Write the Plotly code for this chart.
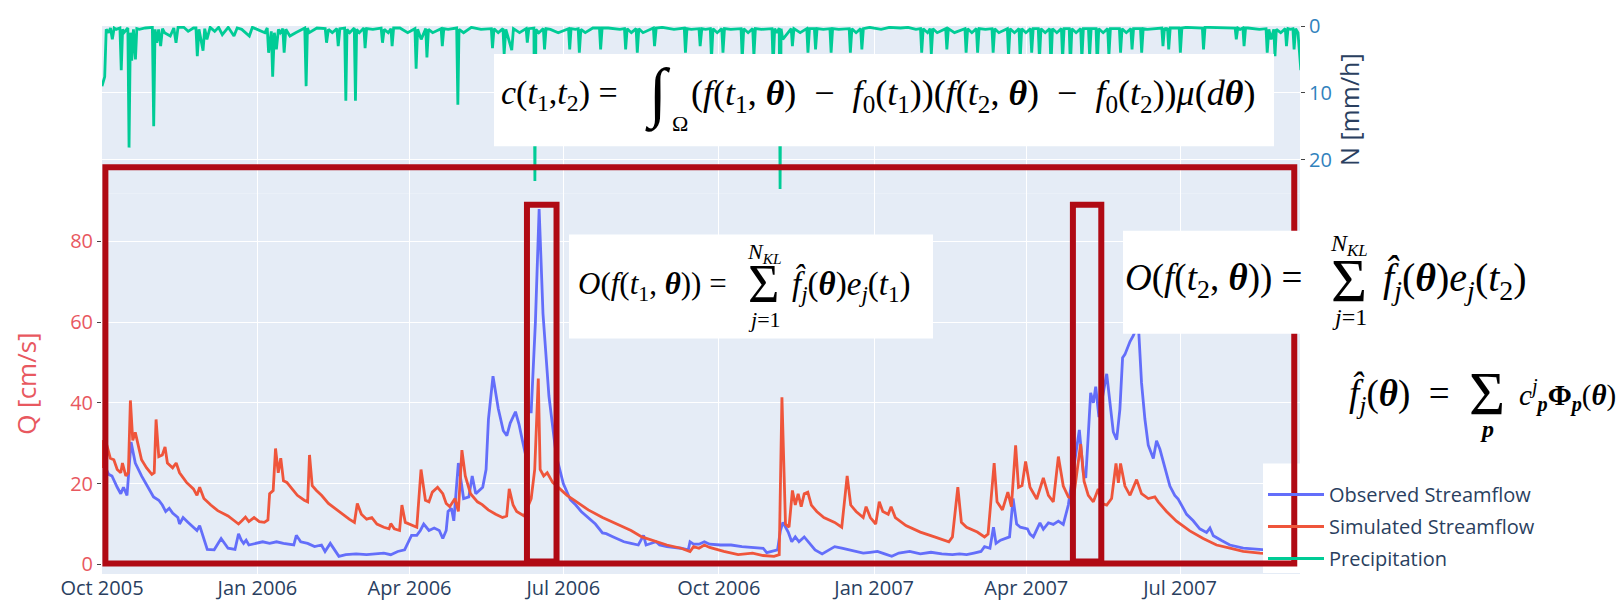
import pandas as pd
import plotly.graph_objects as go

START = pd.Timestamp("2005-10-01")
END_DAY = 709.0

# ---------------- data (days after 2005-10-01) -------------
obs_day = [0, 1.8, 3.9, 5.9, 9.0, 11.1, 12.7, 14.8, 17.2, 19.7,
           23.4, 27.5, 30.5, 33.6, 35.7, 37.7, 39.8, 41.8, 44.9, 45.9,
           48.0, 51.0, 54.1, 56.2, 57.8, 60.3, 62.3, 66.4, 70.5, 74.6,
           78.7, 80.8, 82.4, 83.8, 85.3, 86.9, 91.0, 95.1, 99.2, 103.3,
           107.4, 113.5, 115.0, 117.6, 121.7, 125.8, 129.9, 132.0, 135.1, 138.1,
           140.2, 144.3, 150.4, 156.6, 162.7, 166.8, 170.9, 175.0, 179.1, 183.2,
           186.3, 188.4, 190.4, 193.5, 196.6, 199.6, 201.7, 203.7, 204.8, 206.8,
           208.2, 210.9, 214.0, 217.1, 219.1, 221.2, 225.3, 227.3, 228.7, 231.4,
           234.5, 237.5, 239.6, 241.6, 244.7, 246.8, 248.8, 250.5, 251.9, 254.0,
           256.5, 258.7, 261.0, 264.5, 268.8, 273.0, 277.2, 280.4, 283.6, 287.8,
           292.0, 296.2, 298.4, 302.6, 308.9, 313.1, 317.4, 320.5, 322.0, 327.9,
           330.0, 334.3, 342.7, 347.0, 348.0, 350.1, 353.3, 356.5, 359.6, 366.0,
           372.3, 378.7, 385.0, 391.3, 393.4, 396.6, 399.8, 401.5, 403.0, 406.1,
           408.2, 410.3, 412.5, 415.6, 418.8, 422.0, 426.2, 430.4, 433.6, 437.8,
           442.0, 446.3, 450.5, 454.7, 458.9, 463.2, 467.4, 471.6, 478.0, 484.3,
           490.6, 497.0, 503.3, 507.5, 511.7, 516.0, 520.2, 522.3, 525.5, 527.6,
           529.1, 531.8, 535.0, 537.1, 539.2, 541.3, 543.5, 547.7, 549.2, 551.2,
           555.1, 557.1, 560.1, 563.0, 566.0, 568.9, 571.9, 574.9, 578.4, 580.8,
           582.2, 583.7, 585.1, 586.7, 588.1, 590.0, 594.6, 598.5, 600.5, 602.4,
           604.0, 605.4, 606.8, 608.4, 610.4, 611.9, 613.0, 615.2, 617.2, 619.2,
           622.2, 624.1, 626.1, 629.0, 632.0, 634.9, 636.9, 641.9, 645.8, 649.7,
           653.7, 655.7, 657.7, 662.6, 667.5, 675.4, 685.3, 697.0, 709.5]
obs_q = [30.7, 24.3, 22.3, 21.9, 19.1, 17.5, 19.1, 17.1, 30.3, 25.1,
         21.9, 19.1, 16.7, 15.9, 14.7, 13.1, 13.9, 12.7, 11.6, 10.0,
         11.6, 10.4, 9.2, 8.4, 9.6, 6.0, 3.7, 3.6, 6.4, 4.0,
         3.7, 7.6, 6.0, 5.2, 6.0, 4.8, 5.2, 5.6, 5.2, 5.6,
         5.2, 4.8, 7.2, 5.6, 5.2, 4.4, 4.8, 3.2, 5.2, 3.2,
         2.0, 2.4, 2.6, 2.4, 2.6, 2.8, 2.4, 3.2, 3.6, 7.2,
         7.2, 8.4, 10.0, 8.4, 9.0, 8.4, 6.4, 8.4, 13.1, 13.9,
         10.8, 25.1, 16.3, 16.7, 21.9, 17.5, 19.1, 23.5, 35.9, 46.6,
         38.6, 33.1, 31.9, 35.0, 37.8, 34.7, 30.7, 27.5, 37.8, 37.8,
         60.0, 88.0, 62.0, 41.7, 27.0, 20.0, 16.0, 14.7, 13.1, 11.6,
         10.0, 7.8, 7.6, 6.8, 5.6, 5.2, 4.8, 7.2, 4.8, 5.6,
         4.8, 4.4, 4.0, 3.6, 5.6, 5.0, 5.0, 5.6, 5.0, 4.8,
         4.8, 4.4, 4.2, 4.0, 2.9, 3.2, 3.6, 8.4, 10.4, 8.0,
         5.6, 6.8, 5.6, 6.8, 5.2, 3.6, 2.6, 3.6, 4.4, 4.0,
         3.6, 3.2, 2.8, 3.0, 3.2, 2.6, 2.0, 2.8, 3.2, 2.6,
         3.0, 2.6, 2.4, 2.6, 2.4, 2.8, 3.2, 4.4, 4.0, 9.2,
         5.2, 6.0, 6.4, 6.8, 16.3, 10.0, 9.2, 8.8, 7.5, 6.8,
         10.3, 8.7, 10.3, 9.9, 10.7, 9.9, 14.7, 23.4, 33.3, 22.6,
         21.4, 32.1, 42.5, 40.0, 44.0, 36.5, 47.2, 32.8, 30.9, 38.4,
         51.2, 52.0, 53.6, 55.2, 56.7, 58.3, 62.0, 45.0, 36.0, 29.5,
         26.2, 30.6, 28.5, 24.2, 19.4, 17.1, 16.2, 12.4, 10.8, 8.8,
         7.9, 9.0, 7.1, 5.9, 4.8, 4.0, 3.6, 3.3, 3.0]

sim_day = [0, 0.8, 2.9, 4.9, 7.0, 9.0, 11.1, 12.1, 14.1, 15.6,
           16.8, 18.2, 19.7, 21.3, 23.4, 26.4, 29.5, 30.9, 32.0, 33.6,
           35.7, 37.3, 38.7, 41.8, 43.9, 45.9, 50.0, 54.1, 56.2, 57.8,
           60.3, 64.4, 68.5, 74.6, 80.8, 82.8, 84.9, 86.9, 90.0, 93.1,
           96.1, 98.2, 99.2, 101.3, 102.7, 104.3, 105.8, 107.4, 109.4, 112.5,
           115.6, 119.7, 121.7, 122.8, 124.4, 126.9, 129.9, 134.0, 140.2, 146.3,
           149.4, 151.1, 153.5, 156.6, 159.7, 162.7, 166.8, 169.9, 170.9, 173.0,
           176.1, 177.5, 179.5, 184.3, 186.3, 188.8, 191.4, 193.5, 195.5, 198.6,
           201.7, 203.7, 205.8, 208.9, 210.9, 213.0, 215.0, 218.1, 222.2, 225.0,
           228.6, 233.0, 237.0, 239.5, 241.0, 243.3, 245.4, 249.8, 254.0, 256.1,
           258.2, 259.3, 261.4, 263.5, 266.7, 271.0, 275.2, 279.4, 283.6, 287.8,
           296.2, 304.7, 313.1, 319.5, 325.9, 334.3, 342.7, 348.0, 350.1, 353.3,
           356.5, 359.6, 368.0, 376.5, 385.0, 391.3, 397.7, 400.8, 402.4, 404.5,
           406.6, 408.6, 410.3, 412.0, 413.8, 415.6, 417.7, 419.8, 423.0, 427.2,
           433.6, 437.8, 441.0, 443.1, 446.3, 450.5, 452.2, 454.7, 457.9, 460.0,
           462.1, 465.3, 467.0, 469.5, 475.8, 484.3, 492.7, 501.2, 503.3, 506.5,
           508.6, 511.7, 518.0, 522.3, 524.4, 528.0, 529.7, 532.9, 536.1, 538.2,
           540.7, 542.4, 544.5, 546.6, 549.2, 553.2, 557.1, 560.1, 563.0, 566.0,
           568.9, 571.9, 574.9, 579.2, 581.2, 583.7, 586.7, 589.6, 591.6, 594.6,
           597.5, 600.1, 601.5, 602.8, 605.4, 608.4, 612.3, 615.2, 619.2, 623.1,
           625.1, 630.0, 635.9, 643.8, 651.7, 659.6, 667.5, 675.4, 685.3, 697.0,
           709.5]
sim_q = [23.9, 30.7, 29.5, 26.3, 25.9, 23.5, 22.7, 25.1, 21.9, 22.7,
         40.6, 30.7, 32.7, 29.5, 25.9, 23.9, 22.3, 22.7, 35.9, 26.7,
         27.1, 29.1, 25.1, 23.9, 25.1, 22.7, 20.3, 18.7, 17.1, 19.1,
         16.3, 14.7, 13.3, 12.0, 10.0, 10.8, 11.7, 10.6, 11.6, 10.6,
         10.4, 11.0, 17.5, 18.3, 28.7, 22.7, 26.3, 20.7, 20.3, 18.7,
         17.1, 15.9, 15.5, 27.1, 19.5, 18.3, 17.1, 15.1, 13.1, 11.2,
         10.4, 15.1, 12.4, 11.2, 11.6, 10.0, 9.2, 8.8, 10.1, 8.8,
         8.4, 14.7, 10.4, 9.6, 9.2, 23.5, 15.9, 15.5, 17.9, 19.1,
         17.5, 15.1, 14.3, 16.3, 13.1, 28.3, 21.9, 17.5, 15.5, 14.8,
         13.5, 12.4, 11.6, 12.0, 18.7, 14.7, 13.1, 12.0, 16.3, 23.5,
         46.0, 23.5, 21.9, 22.7, 20.3, 18.7, 17.1, 15.9, 14.7, 13.5,
         11.6, 10.0, 8.4, 6.8, 6.0, 4.8, 4.0, 3.2, 4.4, 4.0,
         4.8, 4.2, 3.2, 2.4, 2.8, 2.2, 2.0, 2.4, 41.4, 10.0,
         9.2, 18.3, 14.7, 17.5, 14.3, 17.5, 17.9, 14.7, 13.1, 11.6,
         10.4, 9.2, 21.9, 14.7, 13.1, 11.6, 14.3, 11.6, 10.0, 15.5,
         13.1, 12.4, 14.3, 11.6, 9.6, 8.0, 6.8, 5.6, 6.8, 19.1,
         10.4, 9.2, 8.0, 6.8, 7.5, 25.1, 15.5, 13.5, 17.9, 14.3,
         29.5, 19.1, 19.5, 25.5, 19.1, 16.2, 21.4, 17.1, 15.5, 26.7,
         19.4, 16.7, 16.3, 29.8, 20.6, 17.1, 15.5, 18.7, 15.1, 14.7,
         16.3, 25.0, 20.2, 25.0, 19.4, 17.1, 21.0, 17.5, 16.3, 16.7,
         15.5, 13.1, 10.7, 8.3, 6.4, 4.8, 4.0, 3.2, 2.8, 2.5,
         2.2]

precip_day = [0, 1.6, 2.5, 3.9, 5, 6.1, 7.2, 8.4, 10.6, 11.4,
              12.2, 13, 15.3, 16, 16.8, 17.6, 18.6, 19.8, 20.6, 22.1,
              25.6, 29.8, 30.6, 31.4, 32.4, 33.5, 34.7, 35.8, 37, 40.4,
              42.5, 43.8, 45, 48.4, 51, 54.1, 55.6, 56.4, 57.4, 59.8,
              60.8, 62.1, 64, 66.7, 69, 71.2, 74.7, 78.1, 80, 82.7,
              87.2, 89, 91.8, 96.4, 97.8, 98.6, 100.2, 101, 102, 103.2,
              104.4, 105.5, 107, 107.8, 108.8, 111.2, 114.6, 118, 120, 120.8,
              121.6, 122.6, 127.2, 132.1, 132.9, 134, 136.3, 139, 139.8, 140.8,
              143.6, 144.3, 145, 146.6, 149.3, 150, 150.7, 152.3, 155, 155.7,
              156.6, 160.3, 165.2, 166, 167, 169.4, 171, 171.7, 172.6, 176.3,
              180.9, 185.2, 185.9, 186.8, 188.9, 191.6, 192.3, 193.2, 195.7, 200.7,
              201.4, 202.3, 204.8, 209.9, 210.6, 211.3, 214, 218.6, 224.3, 230.4,
              231.1, 232, 234.5, 237.3, 238, 239, 242.5, 243.5, 247.1, 251,
              251.7, 252.6, 255.6, 256.2, 256.8, 258.5, 261.2, 261.9, 262.8, 265.4,
              270, 276.1, 276.8, 277.6, 280.2, 281.8, 282.5, 283.4, 286, 290.5,
              294.4, 295.1, 296, 299.6, 306.5, 309.2, 309.9, 310.8, 313.3, 316.1,
              316.8, 317.7, 320.2, 326.3, 327, 328, 331.6, 338.5, 344.6, 345.3,
              346.2, 348.7, 353.3, 354, 355, 357.2, 360, 360.7, 361.6, 364.1,
              366.8, 367.5, 368.4, 372.1, 378.2, 378.9, 379.8, 382.4, 385.1, 385.8,
              386.7, 390.3, 396.5, 397.2, 398.1, 399.5, 400.8, 401.3, 401.9, 402.9,
              407.9, 408.6, 409.5, 413.2, 417.1, 417.8, 418.7, 421.6, 422.3, 423.2,
              426.9, 430.8, 431.5, 432.4, 436, 442.2, 442.9, 443.8, 446.3, 449,
              449.7, 450.6, 454.3, 461.1, 466, 472.6, 477, 481.7, 484.4, 485.1,
              486, 488.6, 490.1, 490.8, 491.7, 494.3, 499.3, 500, 500.9, 504.5,
              510.7, 511.4, 512.3, 514.8, 517.5, 518.2, 519.1, 522.8, 526.7, 527.4,
              528.3, 530.8, 535.8, 536.5, 537.4, 540, 542.7, 543.4, 544.3, 546.8,
              549.5, 550.2, 551.1, 554.1, 554.8, 555.7, 558.2, 560.9, 561.6, 562.5,
              565.1, 567.8, 568.5, 569.4, 572.4, 573.1, 574, 576.5, 579.2, 579.9,
              580.8, 583.8, 584.5, 585.4, 588.3, 589, 589.9, 592.5, 595.2, 595.9,
              596.8, 602.1, 602.8, 603.7, 606.2, 608.9, 609.6, 610.5, 614.6, 615.3,
              616.2, 618.7, 627.2, 627.9, 628.8, 629.7, 630.6, 631.3, 632.2, 633.6,
              637.5, 638.2, 639.1, 641.6, 646.2, 651.2, 651.9, 652.8, 654.2, 662.1,
              670.6, 671.3, 672.2, 673.6, 675.2, 675.9, 676.8, 678.2, 685, 688.9,
              689.6, 690.6, 691.9, 693.5, 694.2, 695, 697.6, 700.3, 701, 701.9,
              703.3, 704.8, 705.5, 706.4, 707.8, 709.5]
precip_mm = [9.0, 7.6, 0.5, 1.0, 0.3, 2.0, 0.3, 0.5, 0.3, 6.6,
             0.5, 1.0, 0.3, 18.2, 1.0, 5.2, 0.5, 5.0, 0.4, 0.5,
             0.3, 0.2, 15.0, 0.5, 2.5, 0.5, 3.0, 0.4, 1.0, 1.5,
             0.3, 2.5, 0.2, 0.2, 0.8, 0.3, 0.3, 4.5, 0.5, 3.7,
             0.4, 2.0, 0.2, 0.8, 0.2, 1.3, 0.2, 1.5, 0.3, 0.5,
             1.5, 0.2, 0.5, 1.0, 0.3, 4.0, 0.8, 7.6, 1.0, 3.5,
             0.5, 1.0, 0.4, 4.0, 0.5, 1.5, 1.0, 0.5, 0.3, 9.0,
             0.3, 1.0, 0.3, 0.4, 2.5, 0.5, 1.0, 0.4, 3.0, 0.4,
             0.3, 11.2, 0.5, 1.0, 0.3, 11.2, 0.5, 1.0, 0.3, 3.3,
             0.4, 0.5, 0.3, 2.5, 0.5, 1.0, 0.4, 3.0, 0.3, 0.3,
             1.0, 0.4, 6.4, 0.5, 2.0, 0.4, 4.7, 0.5, 1.0, 0.4,
             3.0, 0.4, 0.5, 0.3, 11.8, 0.5, 1.0, 0.2, 0.5, 0.4,
             3.3, 0.4, 1.0, 0.4, 4.2, 0.5, 3.6, 0.4, 1.0, 0.4,
             2.5, 0.4, 0.3, 23.2, 0.5, 1.0, 0.4, 3.5, 0.4, 0.5,
             1.0, 0.4, 3.5, 0.4, 0.5, 0.4, 4.0, 0.5, 1.0, 0.3,
             0.3, 3.5, 0.3, 0.3, 0.5, 0.4, 3.5, 0.4, 1.0, 0.4,
             4.0, 0.4, 1.0, 0.3, 3.0, 0.3, 0.2, 0.5, 0.3, 4.0,
             0.4, 0.5, 0.4, 3.0, 0.4, 0.5, 0.4, 5.0, 0.4, 1.0,
             0.4, 4.0, 0.4, 0.5, 0.4, 5.0, 0.4, 1.0, 0.4, 4.5,
             0.4, 0.5, 0.4, 6.0, 0.4, 1.0, 0.3, 24.4, 0.4, 2.0,
             0.4, 3.0, 0.4, 1.0, 0.4, 4.0, 0.4, 0.4, 3.5, 0.4,
             0.5, 0.4, 4.0, 0.4, 0.5, 0.4, 4.0, 0.4, 1.0, 0.4,
             3.5, 0.4, 0.2, 0.5, 0.2, 0.3, 0.2, 0.5, 0.4, 4.0,
             0.4, 1.0, 0.4, 4.2, 0.4, 1.0, 0.4, 3.5, 0.4, 1.0,
             0.4, 4.0, 0.4, 1.0, 0.4, 4.0, 0.4, 0.5, 0.4, 4.0,
             0.4, 1.0, 0.4, 4.5, 0.4, 1.0, 0.4, 5.0, 0.4, 1.0,
             0.4, 4.0, 0.4, 0.4, 5.0, 0.4, 1.0, 0.4, 6.0, 0.4,
             1.0, 0.4, 5.0, 0.4, 0.4, 6.0, 0.4, 1.0, 0.4, 5.0,
             0.4, 0.4, 4.5, 0.4, 0.4, 6.0, 0.4, 1.0, 0.4, 4.5,
             0.4, 0.4, 4.0, 0.4, 1.0, 0.4, 3.5, 0.4, 0.4, 4.0,
             0.4, 0.5, 0.3, 3.0, 0.3, 0.5, 0.3, 3.5, 0.3, 0.3,
             0.3, 4.0, 0.3, 0.2, 0.2, 0.3, 3.5, 0.2, 0.2, 0.3,
             0.3, 2.0, 0.3, 0.5, 0.3, 3.0, 0.3, 0.3, 0.5, 0.4,
             4.0, 0.5, 2.0, 0.5, 4.5, 0.5, 1.0, 0.4, 3.0, 0.4,
             0.5, 0.4, 3.5, 0.4, 1.0, 6.6]

q_ticks = [0, 20, 40, 60, 80]
n_ticks = [0, 10, 20]

# marked windows (days after start)
window_days = [(251.5, 269.0), (574.6, 591.4)]
outer_days = (2.0, 705.6)

assert len(obs_day) == len(obs_q)
assert len(sim_day) == len(sim_q)
assert len(precip_day) == len(precip_mm)


def to_dates(days):
    return [START + pd.Timedelta(days=float(d)) for d in days]


# ---------------- layout geometry (pixels) ----------------
FW, FH = 1620, 613
PL, PR, PT, PB = 102, 1300, 15, 585
PW, PH = PR - PL, PB - PT
SPLIT_PX = 189          # border between precipitation panel and streamflow panel
Q0_PX, Q_PER = 575.0, 4.2
N0_PX, N_PER = 15.0, 6.95


def xp(px):
    return (px - PL) / PW


def yp(py):
    return (PB - py) / PH


BLUE, RED, GREEN = "#636EFA", "#EF553B", "#00CC96"
DARKRED = "#B00A14"
SERIF = "Liberation Serif, DejaVu Serif, serif"

fig = go.Figure()
fig.add_trace(go.Scatter(x=to_dates(obs_day), y=obs_q, mode="lines",
                         name="Observed Streamflow", legendgroup="obs",
                         line=dict(color=BLUE, width=2.8), xaxis="x", yaxis="y"))
fig.add_trace(go.Scatter(x=to_dates(sim_day), y=sim_q, mode="lines",
                         name="Simulated Streamflow", legendgroup="sim",
                         line=dict(color=RED, width=2.8), xaxis="x", yaxis="y"))
fig.add_trace(go.Scatter(x=to_dates(precip_day), y=precip_mm, mode="lines",
                         name="Precipitation", legendgroup="pre",
                         line=dict(color=GREEN, width=2.8), xaxis="x", yaxis="y2"))

shapes = []
# white box behind the legend (so the red frame is drawn over it)
shapes.append(dict(type="rect", xref="paper", yref="paper",
                   x0=xp(1263), x1=xp(1302), y0=yp(584), y1=yp(470),
                   fillcolor="white", line=dict(width=0), layer="above"))
# red frames
shapes.append(dict(type="rect", xref="x", yref="paper",
                   x0=START + pd.Timedelta(days=outer_days[0]),
                   x1=START + pd.Timedelta(days=outer_days[1]),
                   y0=yp(574), y1=yp(162),
                   line=dict(color=DARKRED, width=6), layer="above"))
for d0, d1 in window_days:
    shapes.append(dict(type="rect", xref="x", yref="paper",
                       x0=START + pd.Timedelta(days=d0),
                       x1=START + pd.Timedelta(days=d1),
                       y0=yp(572), y1=yp(201),
                       line=dict(color=DARKRED, width=6), layer="above"))
# white formula boxes
for (bx0, by0, bx1, by1) in [(494, 44, 1274, 140), (569, 232, 933, 340), (1123, 228, 1560, 335)]:
    shapes.append(dict(type="rect", xref="paper", yref="paper",
                       x0=xp(bx0), x1=xp(bx1), y0=yp(by1), y1=yp(by0),
                       fillcolor="white", line=dict(width=0), layer="above"))

ann = []


def text(px_, py_, s, size, anchor="center"):
    ann.append(dict(xref="paper", yref="paper", x=xp(px_), y=yp(py_), text=s,
                    showarrow=False, xanchor=anchor, yanchor="middle",
                    font=dict(family=SERIF, size=size, color="black")))


TH = "<b><i>θ</i></b>"
# formula 1 (covariance)
text(620, 87, "<i>c</i>(<i>t</i><sub>1</sub>,<i>t</i><sub>2</sub>) =", 34, "right")
text(658, 85, "∫", 66)
text(680, 116, "Ω", 22)
text(689, 87, "(<i>f</i>(<i>t</i><sub>1</sub>, " + TH + ")  −  <i>f</i><sub>0</sub>(<i>t</i><sub>1</sub>))"
     "(<i>f</i>(<i>t</i><sub>2</sub>, " + TH + ")  −  <i>f</i><sub>0</sub>(<i>t</i><sub>2</sub>))"
     "<i>μ</i>(<i>d</i>" + TH + ")", 36, "left")
# formula 2
text(729, 285, "<i>O</i>(<i>f</i>(<i>t</i><sub>1</sub>, " + TH + ")) =", 31, "right")
text(763, 283, "Σ", 54)
text(764, 251, "<i>N</i><sub><i>KL</i></sub>", 22)
text(764, 320, "<i>j</i>=1", 22)
text(790, 285, "<i>f̂</i><sub><i>j</i></sub>(" + TH + ")<i>e</i><sub><i>j</i></sub>(<i>t</i><sub>1</sub>)", 33, "left")
# formula 3
text(1304, 280, "<i>O</i>(<i>f</i>(<i>t</i><sub>2</sub>, " + TH + ")) =", 37, "right")
text(1349, 279, "Σ", 62)
text(1349, 243, "<i>N</i><sub><i>KL</i></sub>", 24)
text(1349, 318, "<i>j</i>=1", 24)
text(1381, 280, "<i>f̂</i><sub><i>j</i></sub>(" + TH + ")<i>e</i><sub><i>j</i></sub>(<i>t</i><sub>2</sub>)", 40, "left")
# formula 4
text(1452, 399, "<i>f̂</i><sub><i>j</i></sub>(" + TH + ")  =", 37, "right")
text(1487, 397, "Σ", 62)
text(1487, 434, "<b><i>p</i></b>", 24)
text(1517, 399, "<i>c</i><sup><i>j</i></sup><sub><b><i>p</i></b></sub><b>Φ</b><sub><b><i>p</i></b></sub>(" + TH + ")", 29, "left")

split = (PB - SPLIT_PX) / PH

fig.update_layout(
    template="plotly",
    width=FW, height=FH,
    margin=dict(l=PL, r=FW - PR, t=PT, b=FH - PB, pad=0),
    font=dict(family="Open Sans, sans-serif", size=20, color="#2a3f5f"),
    plot_bgcolor="#E5ECF6", paper_bgcolor="white",
    showlegend=True,
    legend=dict(x=xp(1263), y=yp(482), xanchor="left", yanchor="top",
                bgcolor="rgba(0,0,0,0)", font=dict(size=20, color="#2a3f5f"),
                itemwidth=56, tracegroupgap=3),
    xaxis=dict(domain=[0, 1], anchor="y",
               range=[START, START + pd.Timedelta(days=END_DAY)],
               tick0="2005-10-01", dtick="M3", tickformat="%b %Y",
               showgrid=True, gridcolor="white", ticks="",
               tickfont=dict(size=20, color="#2a3f5f")),
    yaxis=dict(domain=[0, split], anchor="x",
               range=[(Q0_PX - PB) / Q_PER, (Q0_PX - SPLIT_PX) / Q_PER],
               tickvals=q_ticks, ticks="outside", ticklen=4, tickcolor="#444",
               tickfont=dict(size=20, color="#E8585F"),
               title=dict(text="Q [cm/s]", font=dict(size=26, color="#E8585F"), standoff=26),
               gridcolor="white", zeroline=False),
    yaxis2=dict(domain=[split, 1], anchor="x", side="right",
                range=[(SPLIT_PX - N0_PX) / N_PER, (PT - N0_PX) / N_PER],
                tickvals=n_ticks, ticks="outside", ticklen=4, tickcolor="#444",
                tickfont=dict(size=20, color="#3182BD"),
                title=dict(text="N [mm/h]", font=dict(size=25, color="#2a3f5f"), standoff=2),
                gridcolor="white", zeroline=False),
    shapes=shapes,
    annotations=ann,
)

fig.write_html("out.html", config={"displayModeBar": False},
               post_script="document.body.style.margin='0px';document.body.style.overflow='hidden';")
